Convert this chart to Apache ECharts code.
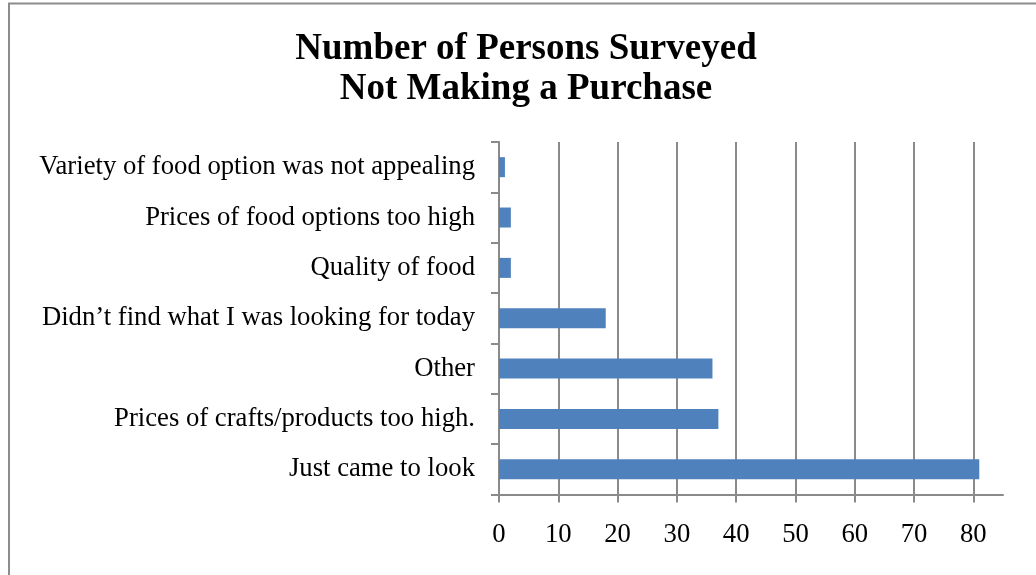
<!DOCTYPE html>
<html>
<head>
<meta charset="utf-8">
<title>Number of Persons Surveyed Not Making a Purchase</title>
<script src="https://cdn.jsdelivr.net/npm/echarts@6/dist/echarts.min.js"></script>
<style>
  html, body { margin: 0; padding: 0; background: #ffffff; }
  #chart { width: 1036px; height: 575px; }
</style>
</head>
<body>
<div id="chart"></div>
<script>
// Reasons given, listed top to bottom
const reasons = [
  'Variety of food option was not appealing',
  'Prices of food options too high',
  'Quality of food',
  'Didn\u2019t find what I was looking for today',
  'Other',
  'Prices of crafts/products too high.',
  'Just came to look'
];
// Number of persons giving each reason
const persons = [1, 2, 2, 18, 36, 37, 81];
// Value axis tick labels
const xTicks = [0, 10, 20, 30, 40, 50, 60, 70, 80];

const serif = '"Liberation Serif", "Times New Roman", "DejaVu Serif", serif';
const gridGray = '#8a8a8a';

const chart = echarts.init(document.getElementById('chart'), null, { renderer: 'canvas' });

chart.setOption({
  animation: false,
  backgroundColor: '#ffffff',
  title: {
    text: 'Number of Persons Surveyed\nNot Making a Purchase',
    left: 521,
    top: 24,
    textAlign: 'center',
    textStyle: {
      fontFamily: serif,
      fontWeight: 'bold',
      fontSize: 37,
      lineHeight: 40,
      color: '#000000'
    }
  },
  graphic: [{
    type: 'rect',
    shape: { x: 9, y: 3.5, width: 1100, height: 700 },
    style: { fill: 'none', stroke: '#8c8c8c', lineWidth: 2 },
    silent: true,
    z: -1
  }],
  grid: {
    left: 499,
    top: 142,
    width: 504,
    height: 352.5,
    containLabel: false
  },
  xAxis: {
    type: 'value',
    min: 0,
    max: 85,
    interval: 10,
    axisLine: { show: true, lineStyle: { color: gridGray, width: 2 } },
    axisTick: {
      show: true,
      length: 8,
      customValues: xTicks,
      lineStyle: { color: gridGray, width: 2 }
    },
    axisLabel: {
      customValues: xTicks,
      margin: 27,
      fontFamily: serif,
      fontSize: 26.7,
      color: '#000000'
    },
    splitLine: { show: false }
  },
  yAxis: {
    type: 'category',
    data: reasons,
    inverse: true,
    axisLine: { show: true, lineStyle: { color: gridGray, width: 2 } },
    axisTick: { show: true, length: 8, lineStyle: { color: gridGray, width: 2 } },
    axisLabel: {
      margin: 24,
      fontFamily: serif,
      fontSize: 26.7,
      color: '#000000'
    },
    splitLine: { show: false }
  },
  series: [{
    type: 'bar',
    data: persons,
    barWidth: 20,
    itemStyle: { color: '#4F81BD' },
    markLine: {
      silent: true,
      symbol: 'none',
      label: { show: false },
      lineStyle: { color: gridGray, width: 2, type: 'solid' },
      z: 1,
      data: xTicks.filter(v => v > 0).map(v => ({ xAxis: v }))
    },
    z: 2
  }]
});
</script>
</body>
</html>
